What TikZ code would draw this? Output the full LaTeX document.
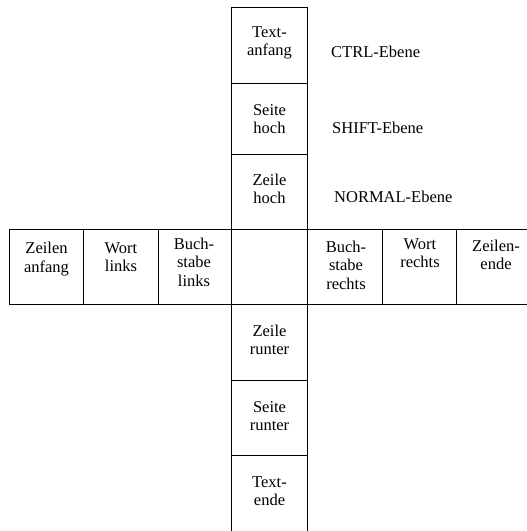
\documentclass[tikz,border=0pt]{standalone}
\usepackage{fontspec}
\setmainfont{Liberation Serif}
\begin{document}
\begin{tikzpicture}[x=1pt,y=-1pt,
  cell/.style={draw,line width=1pt,inner sep=0pt,outer sep=0pt},
  txt/.style={font=\fontsize{16.5}{18.5}\selectfont,align=center,inner sep=0pt},
  lvl/.style={font=\fontsize{16.5}{18.5}\selectfont,anchor=west,inner sep=0pt}]
\useasboundingbox (0,0) rectangle (527,531);
\clip (0,0) rectangle (527,531);
% column
\node[cell,minimum width=76pt,minimum height=76pt] (ta) at (269.5,45) {};
\node[cell,minimum width=76pt,minimum height=71pt] (sh) at (269.5,118.5) {};
\node[cell,minimum width=76pt,minimum height=75pt] (zh) at (269.5,191.5) {};
\node[cell,minimum width=76pt,minimum height=75pt] (mid) at (269.5,266.5) {};
\node[cell,minimum width=76pt,minimum height=76pt] (zr) at (269.5,342) {};
\node[cell,minimum width=76pt,minimum height=75pt] (sr) at (269.5,417.5) {};
\node[cell,minimum width=76pt,minimum height=80pt] (te) at (269.5,495) {};
% row
\node[cell,minimum width=74.5pt,minimum height=75pt] (za) at (46.25,266.5) {};
\node[cell,minimum width=74.5pt,minimum height=75pt] (wl) at (120.75,266.5) {};
\node[cell,minimum width=73.5pt,minimum height=75pt] (bl) at (194.75,266.5) {};
\node[cell,minimum width=74.5pt,minimum height=75pt] (br) at (344.75,266.5) {};
\node[cell,minimum width=74pt,minimum height=75pt] (wr) at (419,266.5) {};
\node[cell,minimum width=79pt,minimum height=75pt] (ze) at (495.5,266.5) {};
% column texts
\node[txt] (tta) at (269.5,43) {Text-\\anfang};
\node[txt] (tsh) at (269.5,119) {Seite\\hoch};
\node[txt] (tzh) at (269.5,189) {Zeile\\hoch};
\node[txt] (tzr) at (269.5,340) {Zeile\\runter};
\node[txt] (tsr) at (269.5,416) {Seite\\runter};
\node[txt] (tte) at (269.5,491) {Text-\\ende};
% row texts
\node[txt] (tza) at (46.5,259) {Zeilen\\anfang};
\node[txt] (twl) at (121,257) {Wort\\links};
\node[txt] (tbl) at (194,262) {Buch-\\stabe\\links};
\node[txt] (tbr) at (346,265) {Buch-\\stabe\\rechts};
\node[txt] (twr) at (420,253) {Wort\\rechts};
\node[txt] (tze) at (496,255) {Zeilen-\\ende};
% level labels
\node[lvl] (lc) at (331,52) {CTRL-Ebene};
\node[lvl] (ls) at (332,128) {SHIFT-Ebene};
\node[lvl] (ln) at (334,197) {NORMAL-Ebene};
\end{tikzpicture}
\end{document}
